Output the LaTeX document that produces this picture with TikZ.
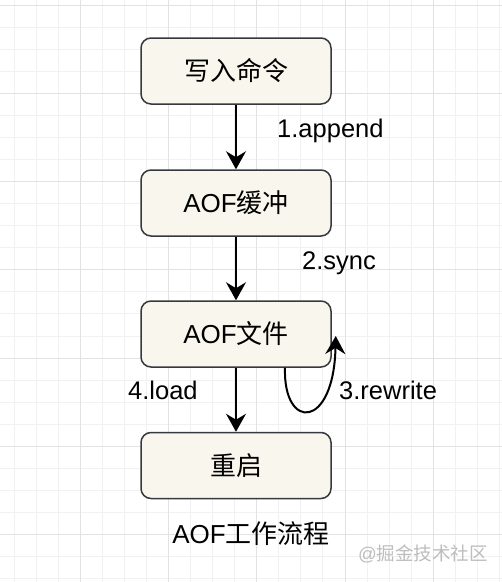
\documentclass[tikz,border=0pt]{standalone}
\usepackage{fontspec}
\setmainfont{Liberation Sans}
\newfontfamily\cjk{Noto Sans CJK SC}
\usetikzlibrary{arrows.meta}
\definecolor{boxfill}{HTML}{F9F7ED}
\definecolor{boxline}{HTML}{36393D}
\definecolor{gridminor}{HTML}{F1F1F1}
\definecolor{gridmajor}{HTML}{E2E2E2}
\definecolor{wmark}{HTML}{BDBDBD}
\tikzset{
  stepbox/.style={draw=boxline, fill=boxfill, line width=1.5pt, rounded corners=10pt,
    minimum width=190pt, minimum height=66pt, inner sep=0pt,
    font=\fontsize{26}{30}\selectfont},
  flow/.style={draw=black, line width=2pt, -{Stealth[length=18pt,width=20pt,inset=6pt]}},
  lbl/.style={inner sep=0pt, anchor=base west, font=\fontsize{25.5}{29}\selectfont},
  minorgrid/.style={draw=gridminor, line width=1pt},
  majorgrid/.style={draw=gridmajor, line width=1pt}
}
\begin{document}
\begin{tikzpicture}[x=1pt,y=-1pt]
\useasboundingbox (0,0) rectangle (502,582);
\fill[white] (0,0) rectangle (502,582);
% grid
\foreach \k in {0,...,22} {
  \pgfmathsetmacro\xx{14+22.07*\k}
  \draw[minorgrid] (\xx,0) -- (\xx,582);
}
\foreach \k in {0,...,26} {
  \pgfmathsetmacro\yy{5+22.07*\k}
  \draw[minorgrid] (0,\yy) -- (502,\yy);
}
\foreach \k in {0,...,5} {
  \pgfmathsetmacro\xx{80.2+88.28*\k}
  \draw[majorgrid] (\xx,0) -- (\xx,582);
}
\foreach \k in {0,...,6} {
  \pgfmathsetmacro\yy{5+88.28*\k}
  \draw[majorgrid] (0,\yy) -- (502,\yy);
}
% boxes
\node[stepbox] (w) at (236,71) {\cjk 写入命令};
\node[stepbox] (b) at (236,203) {AOF{\cjk 缓冲}};
\node[stepbox] (f) at (236,334) {AOF{\cjk 文件}};
\node[stepbox] (r) at (236,465.5) {\cjk 重启};
% connectors
\draw[flow] (w.south) -- (b.north);
\draw[flow] (b.south) -- (f.north);
\draw[flow] (f.south) -- (r.north);
\coordinate (ls) at ([xshift=49pt]f.south);
\coordinate (le) at ([xshift=4pt,yshift=-2pt]f.east);
\draw[flow] (ls) .. controls ([yshift=-63pt,xshift=-2pt]ls) and ([yshift=-94pt,xshift=-2pt]le) .. (le);
% labels
\node[lbl] (l1) at (277,137) {1.append};
\node[lbl] (l2) at (302,269) {2.sync};
\node[lbl] (l4) at (128,399) {4.load};
\node[lbl] (l3) at (339,399) {3.rewrite};
% title
\node[inner sep=0pt, anchor=base, font=\fontsize{26}{30}\selectfont] (t) at (251,543) {AOF{\cjk 工作流程}};
% watermark
\node[inner sep=0pt, anchor=base west, text=wmark, font=\fontsize{18.5}{22}\selectfont] (wm) at (358,560) {@{\cjk 掘金技术社区}};
\end{tikzpicture}
\end{document}
